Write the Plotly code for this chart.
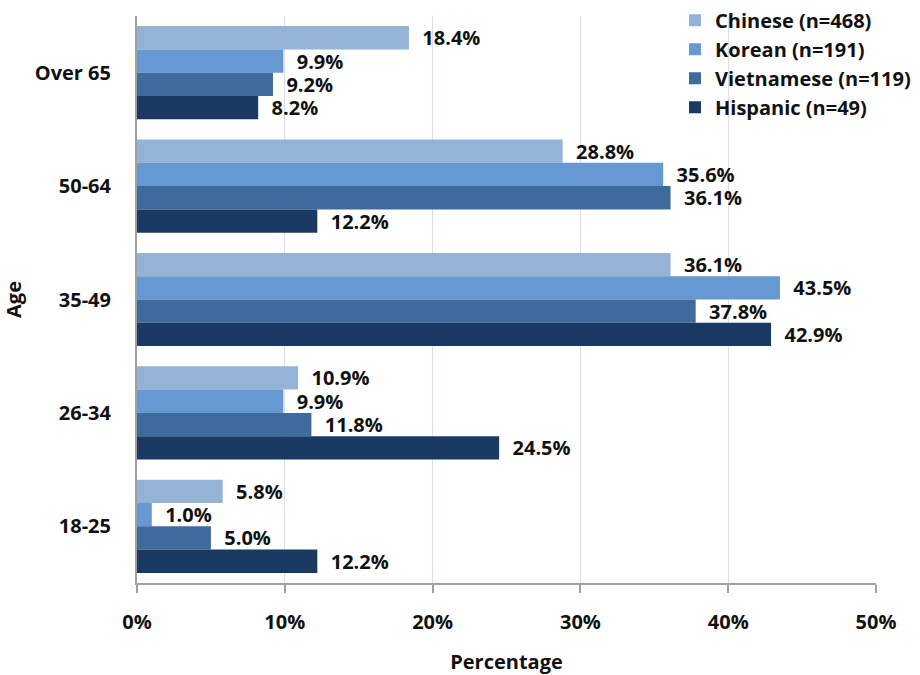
import plotly.graph_objects as go

age_groups = ["Over 65", "50-64", "35-49", "26-34", "18-25"]
series_names = ["Chinese (n=468)", "Korean (n=191)", "Vietnamese (n=119)", "Hispanic (n=49)"]
chinese = [18.4, 28.8, 36.1, 10.9, 5.8]
korean = [9.9, 35.6, 43.5, 9.9, 1.0]
vietnamese = [9.2, 36.1, 37.8, 11.8, 5.0]
hispanic = [8.2, 12.2, 42.9, 24.5, 12.2]
x_ticks = [0, 10, 20, 30, 40, 50]
x_tick_text = ["0%", "10%", "20%", "30%", "40%", "50%"]

series_values = [chinese, korean, vietnamese, hispanic]
colors = ["#95B3D7", "#6699D1", "#3E6A9E", "#1B3A63"]

FONT = "Open Sans"
INK = "#111111"


def bold(size):
    return dict(family=FONT, size=size, color=INK, weight="bold")


fig = go.Figure()
for name, vals, col in zip(series_names, series_values, colors):
    fig.add_trace(go.Bar(
        y=age_groups, x=vals, name=name, orientation="h",
        marker=dict(color=col, line=dict(width=0)),
        text=vals, texttemplate="  %{x:.1f}%", textposition="outside",
        constraintext="none",
        textfont=bold(20),
        cliponaxis=False,
    ))

fig.update_layout(
    barmode="group", bargap=0.178, bargroupgap=0,
    width=920, height=675,
    margin=dict(l=137, r=44, t=16, b=92, autoexpand=False),
    plot_bgcolor="white", paper_bgcolor="white",
    font=bold(20),
    showlegend=True,
    legend=dict(x=0.728, y=1.027, xanchor="left", yanchor="top",
                bgcolor="rgba(255,255,255,0)", traceorder="normal",
                font=bold(20), itemwidth=30, tracegroupgap=0),
)
fig.update_xaxes(
    range=[0, 50], tickmode="array", tickvals=x_ticks, ticktext=x_tick_text,
    showgrid=True, gridcolor="#DADDF0", gridwidth=1,
    showline=True, linecolor="#A0A0A0", linewidth=2,
    ticks="outside", ticklen=8, tickcolor="#A0A0A0", tickwidth=1.5,
    ticklabelstandoff=12,
    zeroline=False, automargin=False,
    tickfont=bold(20),
    title=dict(text="Percentage", standoff=26, font=bold(20)),
)
fig.update_yaxes(
    autorange="reversed",
    showline=True, linecolor="#A0A0A0", linewidth=2,
    ticks="", ticklabelstandoff=20, automargin=False,
    tickfont=bold(20),
    title=dict(text="Age", standoff=16, font=bold(20)),
)

fig.write_html("out.html")
